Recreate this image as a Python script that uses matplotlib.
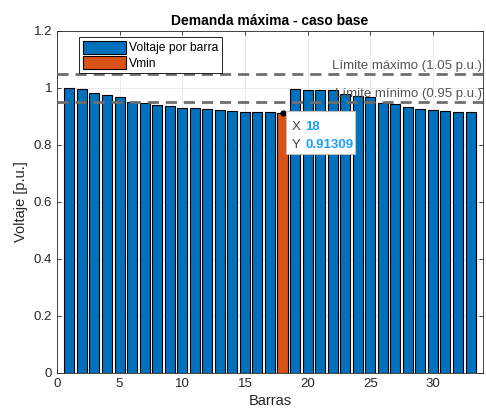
import matplotlib
matplotlib.use('Agg')
import matplotlib.pyplot as plt
from matplotlib.patches import Rectangle
import numpy as np

plt.rcParams['font.family'] = ['Liberation Sans', 'DejaVu Sans']

barras = np.arange(1, 34)
voltaje = [1.0000, 0.9970, 0.9829, 0.9755, 0.9681, 0.9497, 0.9462, 0.9413,
           0.9351, 0.9292, 0.9284, 0.9269, 0.9208, 0.9185, 0.9171, 0.9157,
           0.9137, 0.91309, 0.9965, 0.9929, 0.9922, 0.9916, 0.9794, 0.9727,
           0.9694, 0.9477, 0.9452, 0.9337, 0.9255, 0.9220, 0.9178, 0.9169,
           0.9166]
v_max = 1.05
v_min = 0.95

azul = '#0072BD'
naranja = '#D95319'
gris = '#262626'

fig = plt.figure(figsize=(4.86, 4.12), dpi=100)
ax = fig.add_axes([0.117, 0.095, 0.877, 0.830])

idx = int(np.argmin(voltaje))
ax.bar(barras, voltaje, width=0.8, color=azul, edgecolor='black', linewidth=0.8,
       label='Voltaje por barra', zorder=2)
ax.bar(barras[idx], voltaje[idx], width=0.8, color=naranja, edgecolor='black',
       linewidth=0.8, label='Vmin', zorder=3)

ax.axhline(v_max, color='#6e6e6e', ls='--', lw=2, dashes=(4, 2.5), zorder=4)
ax.axhline(v_min, color='#6e6e6e', ls='--', lw=2, dashes=(4, 2.5), zorder=4)
ax.text(33.9, v_max + 0.007, 'Límite máximo (1.05 p.u.)', ha='right', va='bottom',
        fontsize=9.5, color='#555555', zorder=5)
ax.text(33.9, v_min + 0.007, 'Límite mínimo (0.95 p.u.)', ha='right', va='bottom',
        fontsize=9.5, color='#555555', zorder=5)

# datatip
x0, y0 = barras[idx], voltaje[idx]
ax.plot(x0, y0, 'o', ms=3.5, color='black', zorder=6)
ax.add_patch(Rectangle((x0 + 0.25, 0.767), 5.55, 0.151, facecolor='white',
                       edgecolor='#bfbfbf', lw=0.8, zorder=7))
ax.text(x0 + 0.75, 0.862, 'X', fontsize=9.5, color='#444444', va='center', zorder=8)
ax.text(x0 + 0.75, 0.799, 'Y', fontsize=9.5, color='#444444', va='center', zorder=8)
ax.text(x0 + 1.8, 0.862, '%d' % x0, fontsize=9.5, color='#1a9fff',
        fontweight='bold', va='center', zorder=8)
ax.text(x0 + 1.8, 0.799, '%.5f' % y0, fontsize=9.5, color='#1a9fff',
        fontweight='bold', va='center', zorder=8)

ax.set_xlim(0, 34)
ax.set_ylim(0, 1.2)
ax.set_xticks(np.arange(0, 35, 5))
ax.set_yticks(np.arange(0, 1.21, 0.2))
ax.set_yticklabels(['0', '0.2', '0.4', '0.6', '0.8', '1', '1.2'])
ax.grid(True, color='#e6e6e6', lw=0.6, zorder=0)
ax.set_axisbelow(True)
ax.tick_params(direction='in', top=True, right=True, labelsize=9.5, colors=gris,
               length=3, width=0.6)
for s in ax.spines.values():
    s.set_color(gris)
    s.set_linewidth(0.6)

ax.set_title('Demanda máxima - caso base', fontsize=10, fontweight='bold', pad=4)
ax.set_xlabel('Barras', fontsize=10.5, color=gris, labelpad=3)
ax.set_ylabel('Voltaje [p.u.]', fontsize=10.5, color=gris, labelpad=4)

leg = ax.legend(loc='upper left', bbox_to_anchor=(0.052, 0.982), fontsize=8.7,
                fancybox=False, edgecolor='black', framealpha=1, borderpad=0.3,
                borderaxespad=0, handlelength=3.6, handleheight=1.3,
                handletextpad=0.2, labelspacing=0.15)
leg.get_frame().set_linewidth(0.6)
leg.set_zorder(6)

fig.savefig('out.png', dpi=100)
